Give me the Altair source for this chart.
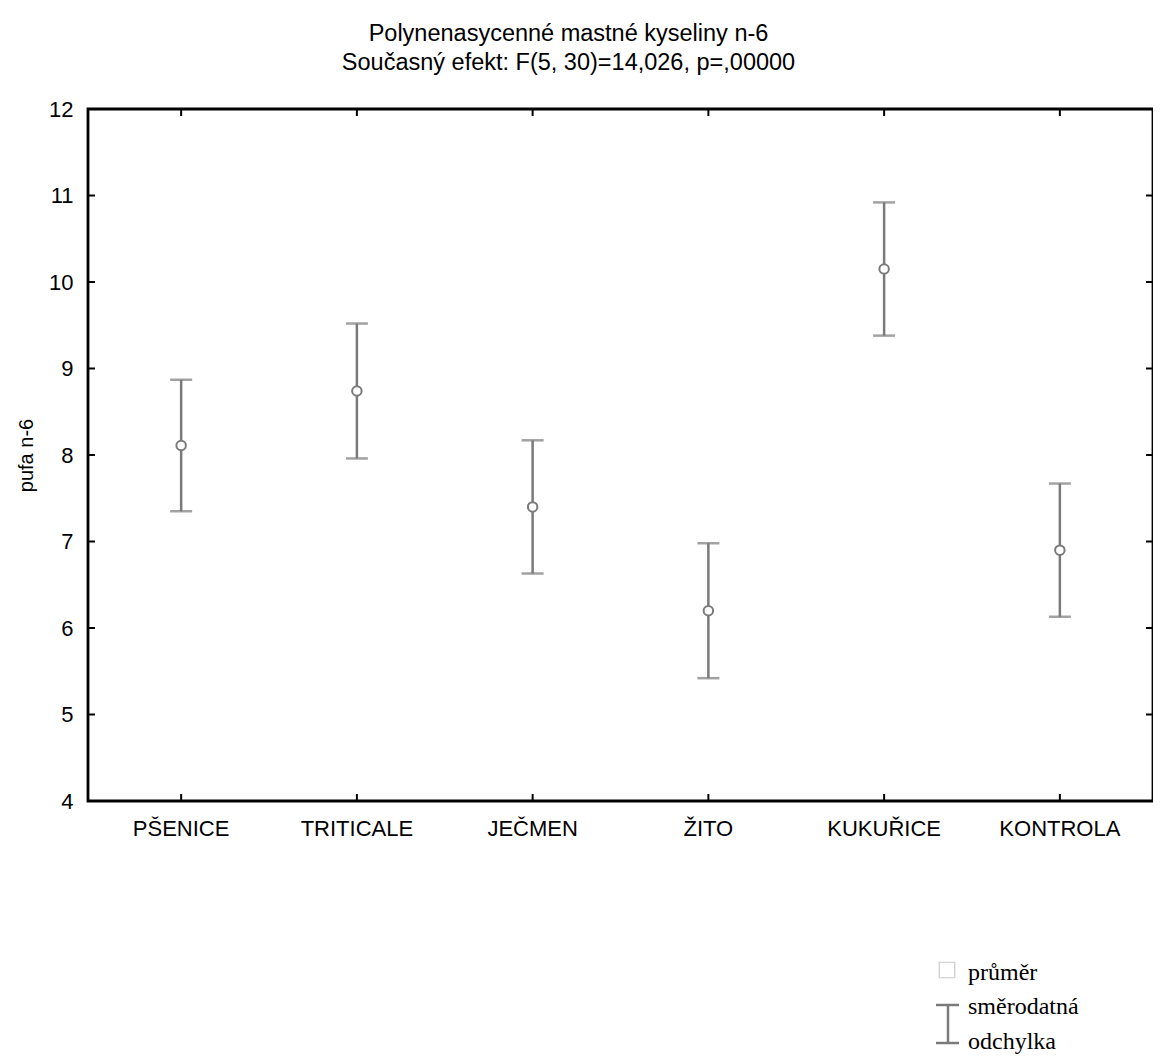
import altair as alt
import pandas as pd

categories = ["PŠENICE", "TRITICALE", "JEČMEN", "ŽITO", "KUKUŘICE", "KONTROLA"]
means = [8.11, 8.74, 7.40, 6.20, 10.15, 6.90]
sds = [0.76, 0.78, 0.77, 0.78, 0.77, 0.77]
y_ticks = [4, 5, 6, 7, 8, 9, 10, 11, 12]

title_lines = ["Polynenasycenné mastné kyseliny n-6", "Současný efekt: F(5, 30)=14,026, p=,00000"]
y_title = "pufa n-6"
legend_mean = "průměr"
legend_sd = ["směrodatná", "odchylka"]

W, H = 1065, 692
GRAY = "#7a7a7a"
FONT = "Liberation Sans"
SERIF = "Liberation Serif"

df = pd.DataFrame({
    "cat": categories,
    "mean": means,
    "lo": [m - s for m, s in zip(means, sds)],
    "hi": [m + s for m, s in zip(means, sds)],
})
ticks_df = pd.DataFrame({"v": y_ticks})
cat_df = pd.DataFrame({"cat": categories})

xs = alt.X("cat:N", sort=categories,
           scale=alt.Scale(paddingInner=0, paddingOuter=0.03),
           axis=alt.Axis(title=None, domain=False, ticks=False, labelFont=FONT,
                         labelFontSize=22, labelColor="black", labelAngle=0,
                         labelPadding=17, labelBaseline="top"))
ys = alt.Scale(domain=[4, 12], nice=False, zero=False)

base = alt.Chart(df)

bars = base.mark_rule(color=GRAY, strokeWidth=2.5).encode(
    x=xs,
    y=alt.Y("lo:Q", scale=ys,
            axis=alt.Axis(title=y_title, values=y_ticks, format="d", domain=False,
                          ticks=False, grid=False,
                          labelFont=FONT, labelFontSize=22, labelColor="black",
                          labelPadding=15, titleFont=FONT, titleFontSize=20,
                          titleFontWeight="normal", titleColor="black",
                          titlePadding=12)),
    y2="hi:Q",
)
caps_hi = base.mark_tick(color=GRAY, thickness=2.5, size=22, orient="horizontal").encode(
    x=alt.X("cat:N", sort=categories), y=alt.Y("hi:Q", scale=ys))
caps_lo = base.mark_tick(color=GRAY, thickness=2.5, size=22, orient="horizontal").encode(
    x=alt.X("cat:N", sort=categories), y=alt.Y("lo:Q", scale=ys))
pts = base.mark_point(shape="circle", filled=True, fill="white", stroke=GRAY,
                      strokeWidth=2, size=90, opacity=1).encode(
    x=alt.X("cat:N", sort=categories), y=alt.Y("mean:Q", scale=ys))

# inward ticks (left and right)
tl = alt.Chart(ticks_df).mark_rule(color="black", strokeWidth=2).encode(
    y=alt.Y("v:Q", scale=ys), x=alt.value(0), x2=alt.value(7))
tr = alt.Chart(ticks_df).mark_rule(color="black", strokeWidth=2).encode(
    y=alt.Y("v:Q", scale=ys), x=alt.value(W - 7), x2=alt.value(W))
# inward ticks (bottom and top)
tb = alt.Chart(cat_df).mark_rule(color="black", strokeWidth=2).encode(
    x=alt.X("cat:N", sort=categories), y=alt.value(H), y2=alt.value(H - 7))
tt = alt.Chart(cat_df).mark_rule(color="black", strokeWidth=2).encode(
    x=alt.X("cat:N", sort=categories), y=alt.value(0), y2=alt.value(7))

# custom legend
leg_sq = alt.Chart(pd.DataFrame({"t": [legend_mean]})).mark_square(
    filled=False, stroke="#b5b5b5", strokeWidth=1.2, size=240, clip=False).encode(
    x=alt.value(859), y=alt.value(861))
def leg_text(s, y):
    return alt.Chart(pd.DataFrame({"t": [s]})).mark_text(
        font=SERIF, fontSize=24, align="left", baseline="alphabetic",
        color="black", clip=False).encode(x=alt.value(880), y=alt.value(y), text="t:N")
leg_t1 = leg_text(legend_mean, 871)
leg_t2 = leg_text(legend_sd[0], 905)
leg_t3 = leg_text(legend_sd[1], 940)
one = pd.DataFrame({"t": [1]})
leg_v = alt.Chart(one).mark_rule(color=GRAY, strokeWidth=2.5, clip=False).encode(
    x=alt.value(860), y=alt.value(896), y2=alt.value(934))
leg_c1 = alt.Chart(one).mark_rule(color=GRAY, strokeWidth=2.5, clip=False).encode(
    x=alt.value(848), x2=alt.value(871), y=alt.value(896))
leg_c2 = alt.Chart(one).mark_rule(color=GRAY, strokeWidth=2.5, clip=False).encode(
    x=alt.value(848), x2=alt.value(871), y=alt.value(934))

chart = alt.layer(
    bars, caps_hi, caps_lo, pts, tl, tr, tb, tt,
    leg_sq, leg_t1, leg_t2, leg_t3, leg_v, leg_c1, leg_c2,
).properties(
    width=W, height=H,
    title=alt.TitleParams(title_lines, font=FONT, fontSize=23.5, fontWeight="normal",
                          color="black", anchor="middle", offset=24, dx=-52,
                          lineHeight=29),
    autosize=alt.AutoSizeParams(type="none"),
    padding={"left": 80, "top": 101, "right": 0, "bottom": 256},
).configure(
    background="white"
).configure_view(
    stroke="black", strokeWidth=2.8
)

chart.save("out.html", embed_options={"renderer": "svg", "actions": False})
